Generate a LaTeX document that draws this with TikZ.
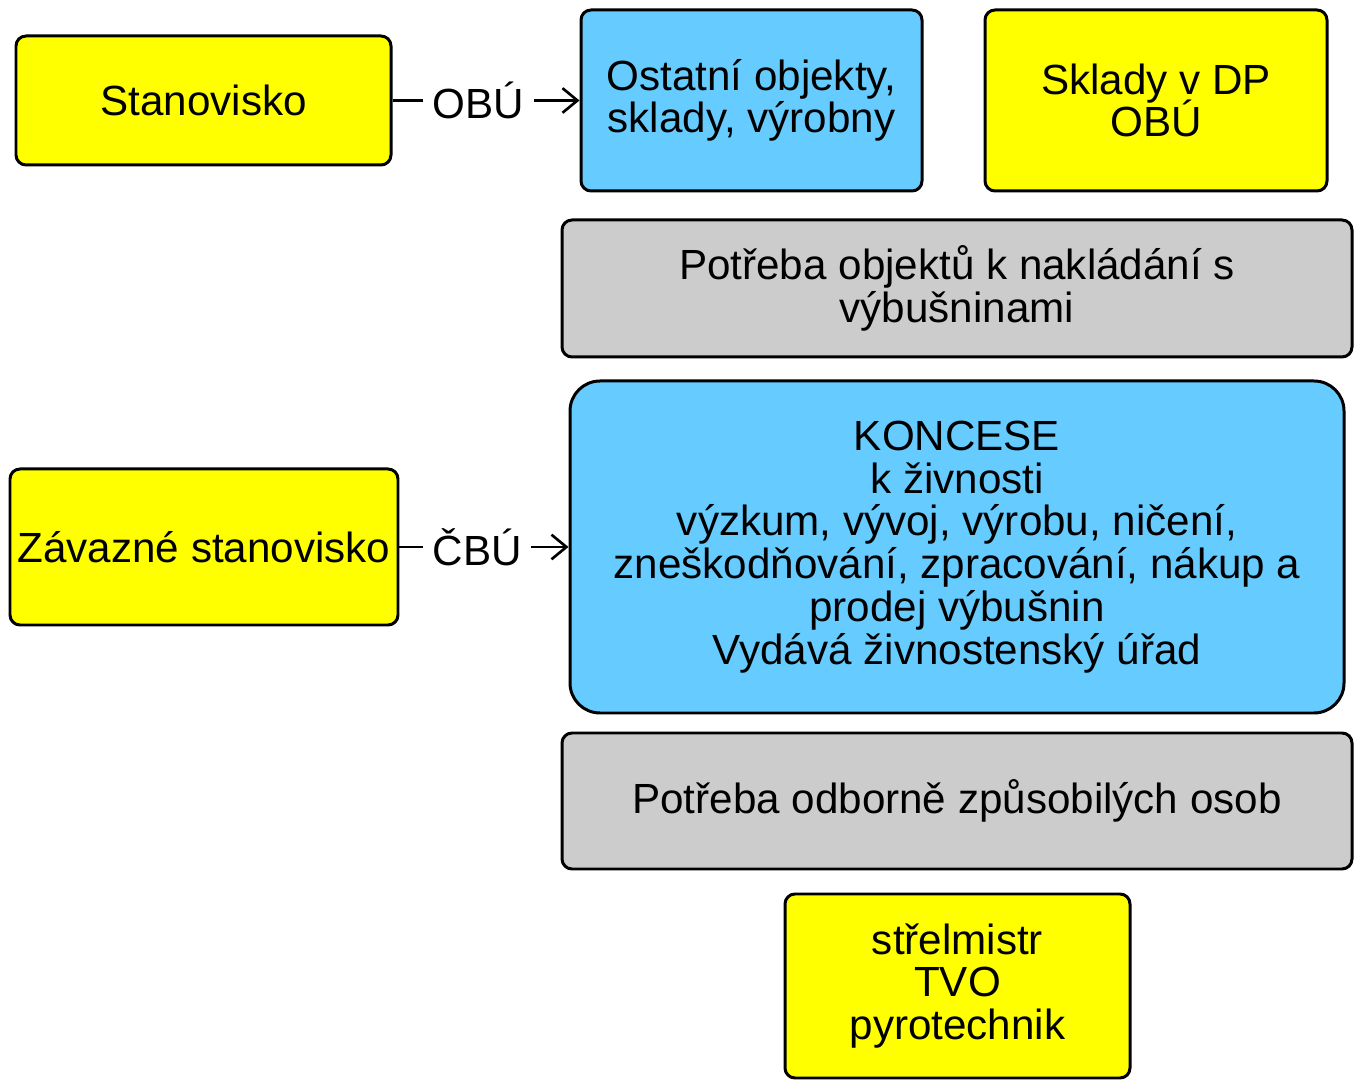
\documentclass[tikz,border=0pt]{standalone}
\usepackage{fontspec}
\setmainfont{Liberation Sans}
\usetikzlibrary{arrows.meta}

\definecolor{zluta}{HTML}{FFFF00}
\definecolor{modra}{HTML}{66CCFF}
\definecolor{seda}{HTML}{CCCCCC}

\newcommand{\pismo}{\fontsize{24}{24.3}\selectfont\lineskiplimit=-20pt\relax}

\begin{document}
\begin{tikzpicture}[
    font=\pismo,
    box/.style={draw, line width=1.7pt, rectangle, rounded corners=0.2cm, inner sep=0pt, align=center},
    ybox/.style={box, fill=zluta},
    bbox/.style={box, fill=modra},
    gbox/.style={box, fill=seda},
    lbl/.style={fill=white, inner xsep=5.5pt, inner ysep=2pt, pos=0.46},
    spoj/.style={line width=1.5pt, -{Straight Barb[length=8.5pt, width=14pt, line width=1.5pt]}}
  ]

    \useasboundingbox (0, 0) rectangle (27.08, 21.62);

    \node[ybox, minimum width=7.5cm, minimum height=2.58cm] (stan) at (4.07, 19.61) {Stanovisko};
    \node[bbox, minimum width=6.82cm, minimum height=3.62cm] (ost) at (15.03, 19.61) {Ostatní objekty,\\sklady, výrobny};
    \node[ybox, minimum width=6.84cm, minimum height=3.62cm] (skl) at (23.12, 19.61) {Sklady v DP\\OBÚ};

    \path[draw, spoj] (stan) to node[lbl] {OBÚ} (ost);

    \node[gbox, minimum width=15.8cm, minimum height=2.74cm] (pobj) at (19.14, 15.85) {Potřeba objektů k nakládání s\\výbušninami};

    %koncese

    \node[bbox, rounded corners=0.6cm, minimum width=15.48cm, minimum height=6.64cm] (konc) at (19.14, 10.68)
      {KONCESE\\k živnosti\\výzkum, vývoj, výrobu, ničení,\\zneškodňování, zpracování, nákup a\\prodej výbušnin\\Vydává živnostenský úřad};
    \node[ybox, minimum width=7.76cm, minimum height=3.12cm] (zav) at (4.08, 10.68) {Závazné stanovisko};

    \path[draw, spoj] (zav) to node[lbl] {ČBÚ} (konc);

    \node[gbox, minimum width=15.8cm, minimum height=2.72cm] (posob) at (19.14, 5.6) {Potřeba odborně způsobilých osob};
    \node[ybox, minimum width=6.9cm, minimum height=3.68cm] (strel) at (19.15, 1.9) {střelmistr\\TVO\\pyrotechnik};

  \end{tikzpicture}
\end{document}
